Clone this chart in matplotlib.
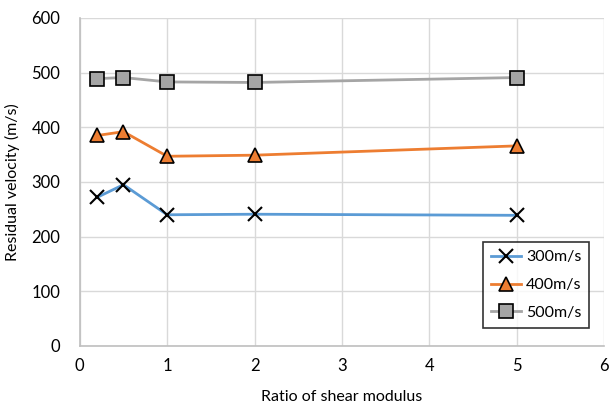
import matplotlib
matplotlib.use('Agg')
import matplotlib.pyplot as plt

# Ratio of shear modulus vs residual velocity
ratio = [0.2, 0.5, 1, 2, 5]
v300 = [272, 295, 240, 241, 239]
v400 = [385, 392, 347, 349, 366]
v500 = [489, 491, 483, 482, 491]

plt.rcParams['font.family'] = ['Lato', 'DejaVu Sans']

fig = plt.figure(figsize=(6.09, 4.08), dpi=100)
ax = fig.add_axes([0.131, 0.152, 0.861, 0.804])

ax.plot(ratio, v300, color='#5B9BD5', lw=2, marker='x', ms=10,
        mec='black', mew=1.5, label='300m/s')
ax.plot(ratio, v400, color='#ED7D31', lw=2, marker='^', ms=10,
        mfc='#ED7D31', mec='black', mew=1.2, label='400m/s')
ax.plot(ratio, v500, color='#A5A5A5', lw=2, marker='s', ms=10,
        mfc='#A5A5A5', mec='black', mew=1.2, label='500m/s')

ax.set_xlim(0, 6)
ax.set_ylim(0, 600)
ax.set_xticks(range(0, 7))
ax.set_yticks(range(0, 601, 100))
ax.grid(True, color='#D9D9D9', lw=1)
ax.set_axisbelow(True)
for s in ['top', 'right']:
    ax.spines[s].set_visible(False)
for s in ['left', 'bottom']:
    ax.spines[s].set_color('#BFBFBF')
    ax.spines[s].set_linewidth(1.2)
ax.tick_params(length=0, labelsize=12, colors='black', pad=9)
ax.tick_params(axis='y', pad=14)

ax.set_xlabel('Ratio of shear modulus', fontsize=11.5, labelpad=11)
ax.set_ylabel('Residual velocity (m/s)', fontsize=11.5, labelpad=8)

leg = ax.legend(loc='lower right', bbox_to_anchor=(0.972, 0.055),
                fontsize=11.5, frameon=True, fancybox=False,
                edgecolor='black', handlelength=1.9, borderpad=0.5,
                labelspacing=0.85, handletextpad=0.3, borderaxespad=0)
leg.get_frame().set_linewidth(1.2)

fig.savefig('out.png', dpi=100)
